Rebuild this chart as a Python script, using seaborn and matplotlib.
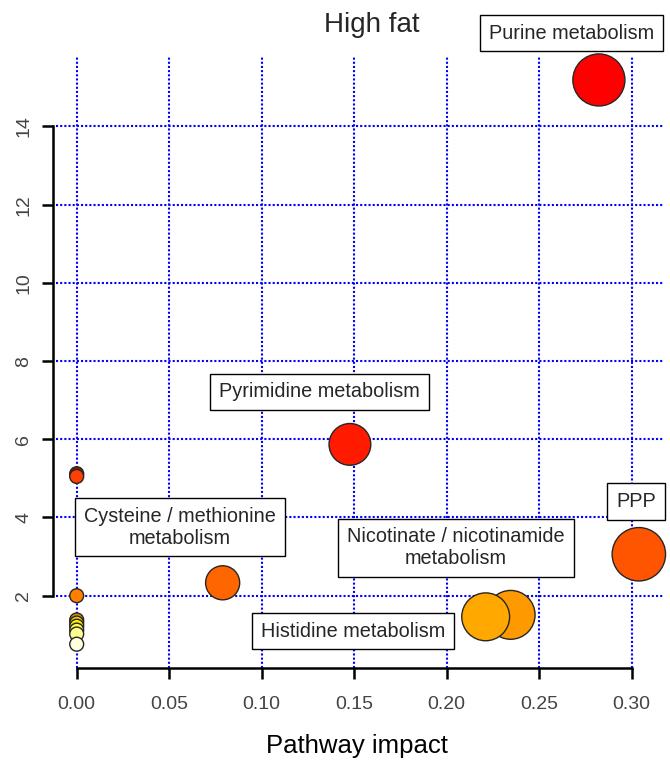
import numpy as np
import pandas as pd
import matplotlib
matplotlib.use("Agg")
import matplotlib.pyplot as plt
from matplotlib.colors import PowerNorm
import seaborn as sns

# ---- data ----
impact = [0.0, 0.0, 0.0, 0.0, 0.0, 0.0, 0.0, 0.0, 0.0,
          0.0789, 0.1477, 0.2823, 0.3039, 0.2346, 0.2211]
neglogp = [5.12, 5.05, 2.00, 1.38, 1.30, 1.22, 1.12, 1.02, 0.76,
           2.33, 5.87, 15.19, 3.06, 1.51, 1.46]
point_colors = ["#8B1A00", "#FF4000", "#FF8000", "#D09000", "#FFD000",
                "#FFEE00", "#FFFF40", "#FFFF90", "#FFFFE0",
                "#FF6600", "#FF1A00", "#FF0000", "#FF5500", "#FF9900", "#FFA800"]

label_texts = ["Purine metabolism", "Pyrimidine metabolism",
               "Cysteine / methionine\nmetabolism",
               "Nicotinate / nicotinamide\nmetabolism",
               "Histidine metabolism", "PPP"]
label_x = [0.2677, 0.1314, 0.0558, 0.2050, 0.1494, 0.3023]
label_y = [16.39, 7.21, 3.757, 3.22, 1.097, 4.42]

x_ticks = [0.00, 0.05, 0.10, 0.15, 0.20, 0.25, 0.30]
y_ticks = [2, 4, 6, 8, 10, 12, 14]

df = pd.DataFrame({"impact": impact, "neglogp": neglogp})

sns.set_style("white")
plt.rcParams["font.family"] = ["Liberation Sans", "DejaVu Sans"]
plt.rcParams.update({
    "xtick.bottom": True, "ytick.left": True,
    "xtick.major.size": 8, "ytick.major.size": 8,
    "xtick.major.width": 1.8, "ytick.major.width": 1.8,
    "xtick.color": "black", "ytick.color": "black",
    "xtick.direction": "out", "ytick.direction": "out",
    "axes.axisbelow": False,
})

W, H = 670, 763
fig = plt.figure(figsize=(W / 100, H / 100), dpi=100)
L, R, T, B = 56, 664, 57, 668
AW, AH = R - L, B - T
ax = fig.add_axes([L / W, 1 - B / H, AW / W, AH / H])

sns.scatterplot(data=df, x="impact", y="neglogp", size="impact",
                sizes=(100, 1480), size_norm=PowerNorm(0.75, vmin=0, vmax=0.3039),
                c=point_colors, edgecolor="#262626", linewidth=1.0,
                legend=False, ax=ax, zorder=3, clip_on=False)

ax.set_xlim(-0.01119, 0.3175)
ax.set_ylim(0.151, 15.777)
ax.set_xticks(x_ticks)
ax.set_yticks(y_ticks)
ax.set_xticklabels([f"{v:.2f}" for v in x_ticks])
ax.set_yticklabels([str(v) for v in y_ticks])

ax.set_axisbelow(False)
ax.grid(True, color="blue", linestyle=(0, (1.0, 1.0)), linewidth=1.5)
for gl in ax.get_xgridlines() + ax.get_ygridlines():
    gl.set_zorder(0.5)

for s in ["top", "right"]:
    ax.spines[s].set_visible(False)
ax.spines["left"].set_position(("outward", 2))
ax.spines["left"].set_bounds(2, 14)
ax.spines["bottom"].set_bounds(0, 0.30)
for s in ["left", "bottom"]:
    ax.spines[s].set_linewidth(1.8)
    ax.spines[s].set_color("black")
    ax.spines[s].set_zorder(4)

ax.tick_params(axis="both", which="major", direction="out", length=8, width=1.8,
               color="black", labelsize=14, labelcolor="#444444",
               bottom=True, left=True)
ax.tick_params(axis="x", pad=12)
ax.tick_params(axis="y", pad=7, labelrotation=90)
for lab in ax.get_yticklabels():
    lab.set_va("center")

ax.set_xlabel("Pathway impact", fontsize=18.5, color="black")
ax.xaxis.set_label_coords((357 - L) / AW, -(746 - B) / AH)
ax.xaxis.label.set_va("center")
ax.set_ylabel("")

fig.text(372 / W, 1 - 25 / H, "High fat", fontsize=20, ha="center", va="center")

for t, lx, ly in zip(label_texts, label_x, label_y):
    ax.text(lx, ly, t, fontsize=14.3, ha="center", va="center", zorder=5,
            linespacing=1.2, clip_on=False,
            bbox=dict(boxstyle="square,pad=0.45", facecolor="white",
                      edgecolor="black", linewidth=1.0))

fig.savefig("out.png", dpi=100)
